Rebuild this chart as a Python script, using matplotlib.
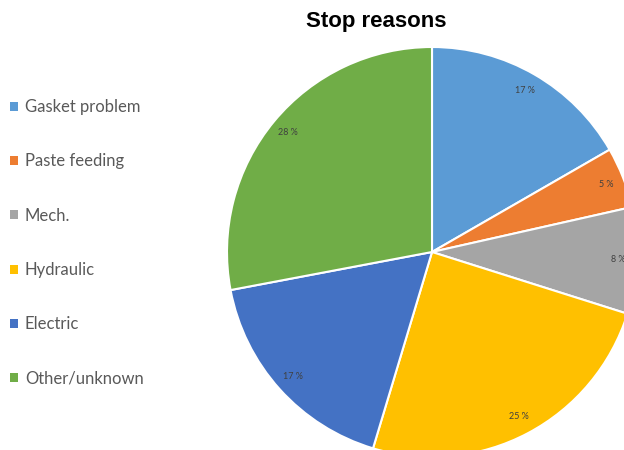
import matplotlib
matplotlib.use('Agg')
import matplotlib.pyplot as plt
from matplotlib.patches import Patch

# stop reason shares (%)
reasons = ['Gasket problem', 'Paste feeding', 'Mech.', 'Hydraulic', 'Electric', 'Other/unknown']
shares = [16.7, 4.8, 8.4, 24.8, 17.4, 28.0]
colours = ['#5B9BD5', '#ED7D31', '#A5A5A5', '#FFC000', '#4472C4', '#70AD47']

W, H = 624, 450
fig = plt.figure(figsize=(W / 100, H / 100), dpi=100)

# pie centre (432, 252) px, radius 205 px -> axes partly outside figure
# (the chart is cropped at the right and bottom, like the original)
cx, cy, r = 432, 252, 205
ax = fig.add_axes([(cx - r) / W, (H - cy - r) / H, 2 * r / W, 2 * r / H])
wedges, texts, autotexts = ax.pie(
    shares, colors=colours, startangle=90, counterclock=False,
    autopct=lambda p: f'{p:.0f} %', pctdistance=0.91, radius=1,
    wedgeprops=dict(edgecolor='white', linewidth=1.5),
    textprops=dict(fontsize=6.5, color='#404040', family='Lato'))
ax.set_xlim(-1, 1)
ax.set_ylim(-1, 1)
ax.set_aspect('equal')
ax.axis('off')

fig.text(376 / W, 1 - 22 / H, 'Stop reasons', ha='center', va='center',
         fontsize=16, fontweight='bold', family='Liberation Sans')

handles = [Patch(facecolor=c, edgecolor='none') for c in colours]
leg = fig.legend(handles, reasons, loc='upper left',
                 bbox_to_anchor=(10 / W, 1 - 99 / H), frameon=False,
                 prop=dict(family='Lato', size=12), labelspacing=2.3,
                 borderpad=0, borderaxespad=0,
                 handlelength=0.45, handleheight=0.45, handletextpad=0.45)
for t in leg.get_texts():
    t.set_color('#595959')

fig.savefig('out.png', dpi=100)
